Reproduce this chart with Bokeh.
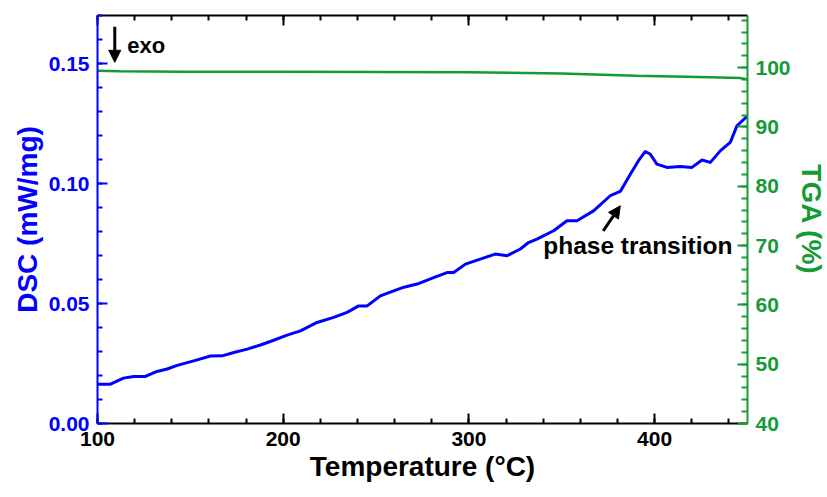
from bokeh.plotting import figure
from bokeh.models import (Range1d, LinearAxis, FixedTicker, Arrow, NormalHead, Label,
                          NumeralTickFormatter, CustomLabelingPolicy)
from bokeh.embed import file_html
from bokeh.resources import INLINE

# ---- data ----
temp_dsc = [100, 107, 114, 119.5, 125.8, 132, 137.5, 142.9, 151.8, 160.8, 167.1, 173.4, 180.6,
            187.7, 194.9, 202.1, 209.3, 218.2, 227.2, 234.4, 240.6, 245.2, 252.3, 259.5, 265,
            272.1, 281.0, 288.2, 291.8, 298.1, 306.1, 314.2, 320.5, 327.7, 332.1, 336.6, 345.6,
            352.8, 358.2, 367.1, 376.1, 381.5, 386.9, 391.3, 394.9, 397.6, 401.2, 406.6, 413.8,
            420.1, 425.5, 430.0, 435.3, 440.7, 444.3, 448.8, 450]
dsc = [0.0164, 0.0164, 0.0189, 0.0196, 0.0196, 0.0217, 0.0227, 0.0242, 0.0261, 0.0281, 0.0282,
       0.0296, 0.0310, 0.0327, 0.0347, 0.0368, 0.0386, 0.0421, 0.0442, 0.0463, 0.0490, 0.0490,
       0.0532, 0.0553, 0.0568, 0.0581, 0.0608, 0.0629, 0.0629, 0.0664, 0.0685, 0.0706, 0.0699,
       0.0727, 0.0754, 0.0768, 0.0803, 0.0845, 0.0845, 0.0886, 0.0949, 0.0967, 0.1039, 0.1095,
       0.1133, 0.1123, 0.1081, 0.1067, 0.1071, 0.1067, 0.1098, 0.1088, 0.1136, 0.1171, 0.1240,
       0.1273, 0.1280]
temp_tga = [100, 112, 145, 200, 300, 350, 390, 430, 446, 450]
tga = [99.5, 99.4, 99.3, 99.3, 99.25, 99.0, 98.65, 98.4, 98.25, 98.0]

x_major = [100, 200, 300, 400]
x_minor = [v for v in range(100, 451, 20)]
dsc_major = [0.0, 0.05, 0.10, 0.15]
dsc_minor = [i / 100 for i in range(0, 18)]
tga_major = [40, 50, 60, 70, 80, 90, 100]
tga_minor = [v for v in range(40, 109, 2)]

BLUE = "#0000FF"
GREEN = "#149B37"
FONT = "Liberation Sans"

p = figure(frame_width=650, frame_height=408, x_range=Range1d(100, 450), y_range=Range1d(0, 0.17),
           output_backend="svg", toolbar_location=None,
           min_border_left=97, min_border_right=80, min_border_top=15, min_border_bottom=74)
p.extra_y_ranges = {"tga": Range1d(40, 108.8)}
p.outline_line_color = None
p.xgrid.visible = False
p.ygrid.visible = False
p.background_fill_color = "white"
p.border_fill_color = "white"


def style_axis(ax, color, major, minor, tick_font="21px", label_font="28px"):
    ax.ticker = FixedTicker(ticks=major, minor_ticks=minor)
    ax.axis_line_color = color
    ax.axis_line_width = 2
    ax.major_tick_line_color = color
    ax.minor_tick_line_color = color
    ax.major_tick_line_width = 2
    ax.minor_tick_line_width = 2
    ax.major_tick_in = 10
    ax.major_tick_out = 0
    ax.minor_tick_in = 5
    ax.minor_tick_out = 0
    ax.major_label_text_color = color
    ax.major_label_text_font = FONT
    ax.major_label_text_font_style = "bold"
    ax.major_label_text_font_size = tick_font
    ax.axis_label_text_color = color
    ax.axis_label_text_font = FONT
    ax.axis_label_text_font_style = "bold"
    ax.axis_label_text_font_size = label_font


# bottom axis
xa = p.xaxis[0]
style_axis(xa, "black", x_major, x_minor)
xa.axis_label = "Temperature (°C)"
xa.major_label_standoff = 8
xa.axis_label_standoff = 2

# left axis
ya = p.yaxis[0]
style_axis(ya, BLUE, dsc_major, dsc_minor)
ya.axis_label = "DSC (mW/mg)"
ya.formatter = NumeralTickFormatter(format="0.00")
ya.major_label_standoff = 8
ya.axis_label_standoff = 3

# top axis (ticks only, no labels drawn)
ta = LinearAxis()
style_axis(ta, "black", x_major, x_minor, tick_font="1px")
ta.major_label_standoff = 0
ta.major_label_policy = CustomLabelingPolicy(
    code="for (const i of Array.from(indices)) { indices.unset(i) } return indices")
p.add_layout(ta, "above")

# right axis
ra = LinearAxis(y_range_name="tga")
style_axis(ra, GREEN, tga_major, tga_minor)
ra.axis_label = "TGA (%)"
ra.major_label_standoff = 8
ra.axis_label_standoff = 2
ra.minor_tick_in = 6
p.add_layout(ra, "right")

# curves
p.line(temp_tga, tga, y_range_name="tga", line_color=GREEN, line_width=2.5)
p.line(temp_dsc, dsc, line_color=BLUE, line_width=3, line_join="round")

# annotations
p.add_layout(Arrow(end=NormalHead(size=12, fill_color="black", line_color="black"),
                   x_start=109.3, y_start=0.1653, x_end=109.3, y_end=0.1505,
                   line_width=3, line_color="black"))
p.add_layout(Label(x=116, y=0.1574, text="exo", text_baseline="middle", text_color="black",
                   text_font=FONT, text_font_style="bold", text_font_size="22px"))
p.add_layout(Arrow(end=NormalHead(size=12, fill_color="black", line_color="black"),
                   x_start=372.3, y_start=0.0803, x_end=381.5, y_end=0.0907,
                   line_width=3, line_color="black"))
p.add_layout(Label(x=340, y=0.074, text="phase transition", text_baseline="middle",
                   text_color="black",
                   text_font=FONT, text_font_style="bold", text_font_size="24.5px"))

open("out.html", "w").write(file_html(p, INLINE))
